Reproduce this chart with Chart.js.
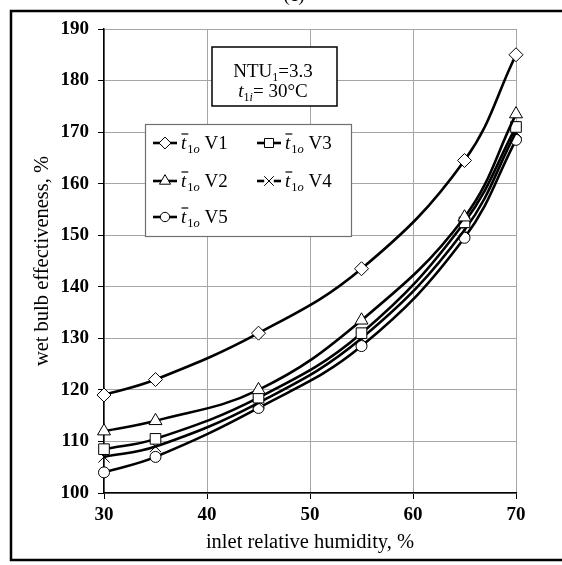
<!DOCTYPE html>
<html>
<head>
<meta charset="utf-8">
<script src="https://cdn.jsdelivr.net/npm/chart.js@4.4.1/dist/chart.umd.min.js"></script>
<style>
  html, body { margin: 0; padding: 0; background: #fff; }
  #wrap { width: 562px; height: 565px; position: relative; }
</style>
</head>
<body>
<div id="wrap"><canvas id="chart" width="562" height="565"></canvas></div>
<script>
// inlet relative humidity, %
const humidity = [30, 35, 45, 55, 65, 70];

// wet bulb effectiveness, % for each case
const v1 = [119, 122, 131, 143.5, 164.5, 185];
const v2 = [112, 114, 120, 133.5, 153.5, 173.5];
const v3 = [108.5, 110.5, 118.5, 131, 152.5, 171];
const v4 = [107, 109, 117.5, 130, 151, 170];
const v5 = [104, 107, 116.5, 128.5, 149.5, 168.5];

const xTicks = [30, 40, 50, 60, 70];
const yTicks = [100, 110, 120, 130, 140, 150, 160, 170, 180, 190];

const seriesNames = ['V1', 'V2', 'V3', 'V4', 'V5'];
const seriesValues = [v1, v2, v3, v4, v5];
const markers = [
    { style: 'rectRot', radius: 7 },
    { style: 'triangle', radius: 7.5 },
    { style: 'rect', radius: 7.5 },
    { style: 'crossRot', radius: 8 },
    { style: 'circle', radius: 5.5 }
];

const serif = '"Liberation Serif", "Times New Roman", serif';

const datasets = seriesValues.map((vals, i) => ({
    label: seriesNames[i],
    data: humidity.map((h, j) => ({ x: h, y: vals[j] })),
    borderColor: '#000',
    borderWidth: 2.6,
    tension: 0.4,
    clip: false,
    pointStyle: markers[i].style,
    pointRadius: markers[i].radius,
    pointHoverRadius: markers[i].radius,
    pointBackgroundColor: '#fff',
    pointBorderColor: '#000',
    pointBorderWidth: 1
}));

// marker for the legend box
function drawMarker(ctx, style, r, x, y) {
    ctx.save();
    ctx.fillStyle = '#fff';
    ctx.strokeStyle = '#000';
    ctx.lineWidth = 1;
    ctx.beginPath();
    if (style === 'rectRot') {
        ctx.moveTo(x, y - r); ctx.lineTo(x + r, y); ctx.lineTo(x, y + r); ctx.lineTo(x - r, y);
        ctx.closePath(); ctx.fill(); ctx.stroke();
    } else if (style === 'triangle') {
        const w = r * Math.sqrt(3) / 2;
        ctx.moveTo(x, y - r); ctx.lineTo(x + w, y + r / 2); ctx.lineTo(x - w, y + r / 2);
        ctx.closePath(); ctx.fill(); ctx.stroke();
    } else if (style === 'rect') {
        const s = r * Math.SQRT1_2;
        ctx.rect(x - s, y - s, 2 * s, 2 * s); ctx.fill(); ctx.stroke();
    } else if (style === 'crossRot') {
        const s = r * Math.SQRT1_2;
        ctx.fillRect(x - s, y - s, 2 * s, 2 * s);
        ctx.moveTo(x - s, y - s); ctx.lineTo(x + s, y + s);
        ctx.moveTo(x + s, y - s); ctx.lineTo(x - s, y + s);
        ctx.stroke();
    } else {
        ctx.arc(x, y, r, 0, Math.PI * 2); ctx.fill(); ctx.stroke();
    }
    ctx.restore();
}

// t-bar with subscript 1o, then the series name
function drawSymbolLabel(ctx, x, y, name) {
    ctx.save();
    ctx.fillStyle = '#000';
    ctx.textBaseline = 'alphabetic';
    ctx.textAlign = 'left';
    ctx.font = 'italic 19px ' + serif;
    ctx.fillText('t', x, y);
    const wt = ctx.measureText('t').width;
    ctx.strokeStyle = '#000';
    ctx.lineWidth = 1.2;
    ctx.beginPath();
    ctx.moveTo(x + 0.5, y - 15);
    ctx.lineTo(x + wt + 2, y - 15);
    ctx.stroke();
    let cx = x + wt + 1;
    ctx.font = '12.5px ' + serif;
    ctx.fillText('1', cx, y + 4);
    cx += ctx.measureText('1').width;
    ctx.font = 'italic 12.5px ' + serif;
    ctx.fillText('o', cx, y + 4);
    cx += ctx.measureText('o').width;
    ctx.font = '19px ' + serif;
    ctx.fillText(' ' + name, cx, y);
    ctx.restore();
}

function drawRuns(ctx, runs, centerX, y) {
    let total = 0;
    runs.forEach(r => { ctx.font = r.font; total += ctx.measureText(r.text).width; });
    let cx = centerX - total / 2;
    runs.forEach(r => {
        ctx.font = r.font;
        ctx.fillText(r.text, cx, y + (r.dy || 0));
        cx += ctx.measureText(r.text).width;
    });
}

const extrasPlugin = {
    id: 'extras',
    afterDatasetsDraw(chart) {
        const ctx = chart.ctx;

        // legend box
        ctx.save();
        ctx.fillStyle = '#fff';
        ctx.fillRect(145, 124, 206, 112);
        ctx.strokeStyle = '#707070';
        ctx.lineWidth = 1.2;
        ctx.strokeRect(145.5, 124.5, 206, 112);
        ctx.restore();

        const cells = [
            { i: 0, x: 153, y: 143 }, { i: 2, x: 257, y: 143 },
            { i: 1, x: 153, y: 181 }, { i: 3, x: 257, y: 181 },
            { i: 4, x: 153, y: 217 }
        ];
        cells.forEach(c => {
            ctx.save();
            ctx.strokeStyle = '#000';
            ctx.lineWidth = 2.6;
            ctx.beginPath();
            ctx.moveTo(c.x, c.y);
            ctx.lineTo(c.x + 24, c.y);
            ctx.stroke();
            ctx.restore();
            drawMarker(ctx, markers[c.i].style, markers[c.i].radius * 0.85, c.x + 12, c.y);
            drawSymbolLabel(ctx, c.x + 28, c.y + 6, seriesNames[c.i]);
        });

        // NTU annotation box
        ctx.save();
        ctx.fillStyle = '#fff';
        ctx.fillRect(212, 47, 125, 59);
        ctx.strokeStyle = '#000';
        ctx.lineWidth = 1.5;
        ctx.strokeRect(212, 47, 125, 59);
        ctx.fillStyle = '#000';
        ctx.textAlign = 'left';
        ctx.textBaseline = 'alphabetic';
        drawRuns(ctx, [
            { text: 'NTU', font: '19px ' + serif },
            { text: '1', font: '12px ' + serif, dy: 4 },
            { text: '=3.3', font: '19px ' + serif }
        ], 273, 77);
        drawRuns(ctx, [
            { text: 't', font: 'italic 19px ' + serif },
            { text: '1', font: '12px ' + serif, dy: 4 },
            { text: 'i', font: 'italic 12px ' + serif, dy: 4 },
            { text: '= 30°C', font: '19px ' + serif }
        ], 273, 97);
        ctx.restore();

        // outer frame (right side runs off the picture) and clipped panel letter
        ctx.save();
        ctx.strokeStyle = '#000';
        ctx.lineWidth = 2.5;
        ctx.strokeRect(11, 11, 570, 549);
        ctx.fillStyle = '#000';
        ctx.font = '19px ' + serif;
        ctx.textAlign = 'center';
        ctx.fillText('(c)', 294, 1);
        ctx.restore();
    }
};

new Chart(document.getElementById('chart'), {
    type: 'line',
    data: { datasets: datasets },
    options: {
        responsive: false,
        animation: false,
        devicePixelRatio: 1,
        layout: { padding: { left: 14, right: 46, top: 29, bottom: 10 } },
        plugins: {
            legend: { display: false },
            tooltip: { enabled: false }
        },
        scales: {
            x: {
                type: 'linear',
                min: 30,
                max: 70,
                afterBuildTicks: axis => { axis.ticks = xTicks.map(v => ({ value: v })); },
                afterFit: axis => { axis.height = 62; },
                ticks: {
                    color: '#000',
                    padding: 5,
                    font: { family: serif, size: 19, weight: 'bold' }
                },
                grid: { color: '#a6a6a6', lineWidth: 1, tickColor: '#000', tickLength: 6 },
                border: { color: '#000', width: 1.5 },
                title: {
                    display: true,
                    text: 'inlet relative humidity, %',
                    color: '#000',
                    padding: { top: 0, bottom: 0 },
                    font: { family: serif, size: 20.5 }
                }
            },
            y: {
                min: 100,
                max: 190,
                afterBuildTicks: axis => { axis.ticks = yTicks.map(v => ({ value: v })); },
                afterFit: axis => { axis.width = 90; },
                ticks: {
                    color: '#000',
                    padding: 9,
                    font: { family: serif, size: 19, weight: 'bold' }
                },
                grid: { color: '#a6a6a6', lineWidth: 1, tickColor: '#000', tickLength: 6 },
                border: { color: '#000', width: 1.5 },
                title: {
                    display: true,
                    text: 'wet bulb effectiveness, %',
                    color: '#000',
                    padding: { top: 16, bottom: 0 },
                    font: { family: serif, size: 20.5 }
                }
            }
        }
    },
    plugins: [extrasPlugin]
});
</script>
</body>
</html>
